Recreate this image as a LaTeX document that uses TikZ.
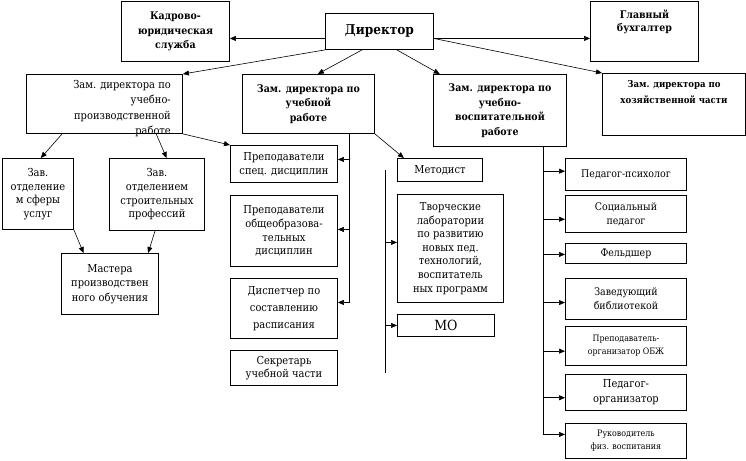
\documentclass[tikz,border=0pt]{standalone}
\usepackage{fontspec}
\setmainfont{DejaVu Serif Condensed}
\newfontfamily\tms{DejaVu Serif Condensed}
\usetikzlibrary{arrows.meta,calc}
\newcommand\mybox[7]{\node[box,#6,minimum width={#4pt-#2pt},minimum height={#5pt-#3pt}] (#1) at (#2,#3) {#7};}
\begin{document}
\begin{tikzpicture}[x=1pt,y=-1pt,
  box/.style={draw,line width=0.9pt,anchor=north west,inner sep=1pt,align=center},
  txt/.style={font=\tms\fontsize{11}{13.6}\selectfont},
  btxt/.style={font=\tms\fontsize{10.5}{14.5}\selectfont\bfseries,align=center},
  rtxt/.style={font=\tms\fontsize{10.5}{14}\selectfont},
  stxt/.style={font=\tms\fontsize{8.8}{13}\selectfont},
  arr/.style={line width=0.6pt,-{Triangle[length=6pt,width=5pt]}},
  ln/.style={line width=0.6pt}]
\useasboundingbox (0,0) rectangle (746,460);
% top row
\mybox{kadr}{121}{1}{229}{61}{btxt}{Кадрово-\\юридическая\\служба}
\mybox{dir}{325}{13}{433}{49}{font=\tms\fontsize{13.5}{16}\selectfont\bfseries}{Директор}
\mybox{glb}{590}{1}{698}{61}{}{}
\node[font=\tms\fontsize{10.5}{13}\selectfont\bfseries,align=center,anchor=north,inner sep=1pt] (glbt) at ($(glb.north)+(0,8)$) {Главный\\бухгалтер};
% deputies
\mybox{zup}{26}{74}{182}{133}{}{}
\node[font=\tms\fontsize{11}{15.5}\selectfont,align=right,anchor=north east,inner sep=1pt] (zupt) at (172,79) {Зам. директора по\\учебно-\\производственной\\работе};
\mybox{zu}{242}{74}{374}{133}{btxt}{Зам. директора по\\учебной\\работе}
\mybox{zuv}{433}{74}{566}{146}{btxt}{Зам. директора по\\учебно-\\воспитательной\\работе}
\mybox{hoz}{602}{73}{745}{135}{}{}
\node[font=\tms\fontsize{9.5}{16}\selectfont\bfseries,align=center,anchor=north,inner sep=1pt] (hozt) at ($(hoz.north)+(0,6)$) {Зам. директора по\\хозяйственной части};
% left branch
\mybox{zo1}{2}{158}{73}{229}{txt}{Зав.\\отделение\\м сферы\\услуг}
\mybox{zo2}{109}{158}{204}{230}{txt}{Зав.\\отделением\\строительных\\профессий}
\mybox{mas}{61}{253}{158}{314}{font=\tms\fontsize{11}{14.5}\selectfont}{Мастера\\производствен\\ного обучения}
% middle column
\mybox{psd}{230}{145}{337}{182}{txt}{Преподаватели\\спец. дисциплин}
\mybox{pod}{230}{195}{337}{266}{txt}{Преподаватели\\общеобразова-\\тельных\\дисциплин}
\mybox{dsp}{230}{278}{337}{338}{font=\tms\fontsize{11}{17}\selectfont}{Диспетчер по\\составлению\\расписания}
\mybox{sek}{230}{350}{337}{385}{txt}{Секретарь\\учебной части}
\mybox{met}{397}{158}{482}{181}{txt}{Методист}
\mybox{tvo}{397}{194}{503}{302}{txt}{Творческие\\лаборатории\\по развитию\\новых пед.\\технологий,\\воспитатель\\ных программ}
\mybox{mo}{397}{314}{494}{336}{font=\tms\fontsize{14}{16}\selectfont}{МО}
% right column
\mybox{pp}{565}{158}{686}{190}{rtxt}{Педагог-психолог}
\mybox{sp}{565}{195}{686}{232}{rtxt}{Социальный\\педагог}
\mybox{fel}{565}{243}{686}{263}{rtxt}{Фельдшер}
\mybox{zb}{565}{278}{686}{319}{rtxt}{Заведующий\\библиотекой}
\mybox{obzh}{565}{326}{686}{365}{stxt}{Преподаватель-\\организатор ОБЖ}
\mybox{po}{565}{374}{686}{410}{font=\tms\fontsize{11}{15}\selectfont}{Педагог-\\организатор}
\mybox{ruk}{565}{423}{686}{458}{stxt}{Руководитель\\физ. воспитания}

% connectors from the director
\coordinate (dL) at ([yshift=-7pt]dir.west);
\coordinate (dR) at ([yshift=-7pt]dir.east);
\draw[arr] (dL) -- (dL -| kadr.east);
\draw[arr] (dR) -- (dR -| glb.west);
\draw[arr] (dR) -- (hoz.north west);
\draw[arr] (dir.south west) -- (zup.north east);
\draw[arr] ($(dir.south west)!0.34!(dir.south east)$) -- ($(zu.north west)!0.57!(zu.north east)$);
\draw[arr] ($(dir.south west)!0.66!(dir.south east)$) -- ($(zuv.north west)!0.05!(zuv.north east)$);

% left branch
\draw[arr] ($(zup.south west)!0.23!(zup.south east)$) -- ($(zo1.north west)!0.54!(zo1.north east)$);
\draw[arr] ($(zup.south west)!0.83!(zup.south east)$) -- ($(zo2.north west)!0.60!(zo2.north east)$);
\draw[arr] (zup.south east) -- (psd.north west);
\draw[arr] (zo1.south east) -- ($(mas.north west)!0.23!(mas.north east)$);
\draw[arr] ($(zo2.south west)!0.48!(zo2.south east)$) -- ($(mas.north west)!0.89!(mas.north east)$);

% educational deputy
\coordinate (zuB) at ($(zu.south west)!0.81!(zu.south east)$);
\coordinate (a1) at ([yshift=4.5pt]psd.east);
\coordinate (a2) at ([yshift=1.5pt]pod.east);
\coordinate (a3) at ([yshift=6pt]dsp.east);
\draw[ln] (zuB) -- (zuB |- a3);
\draw[arr] (zuB |- a1) -- (a1);
\draw[arr] (zuB |- a2) -- (a2);
\draw[arr] (zuB |- a3) -- (a3);
\draw[arr] (zu.south east) -- ($(met.north west)!0.08!(met.north east)$);

% free vertical line to labs and MO
\coordinate (vt) at (385,170);
\coordinate (vb) at (385,373);
\coordinate (b1) at ([yshift=6pt]tvo.west);
\draw[ln] (vt) -- (vb);
\draw[arr] (vt |- b1) -- (b1);
\draw[arr] (vt |- mo.west) -- (mo.west);

% upbringing deputy
\coordinate (spT) at ($(zuv.south west)!0.82!(zuv.south east)$);
\coordinate (c1) at ([yshift=3.3pt]pp.west);
\coordinate (c2) at ([yshift=-5.3pt]sp.west);
\coordinate (c3) at ([yshift=-1pt]fel.west);
\coordinate (c4) at ([yshift=-3.6pt]zb.west);
\coordinate (c5) at ([yshift=-5.2pt]obzh.west);
\coordinate (c6) at ([yshift=-5.3pt]po.west);
\coordinate (c7) at ([yshift=6.5pt]ruk.west);
\draw[arr] (spT) |- (c7);
\foreach \c in {c1,c2,c3,c4,c5,c6}{\draw[arr] (spT |- \c) -- (\c);}
\end{tikzpicture}
\end{document}
